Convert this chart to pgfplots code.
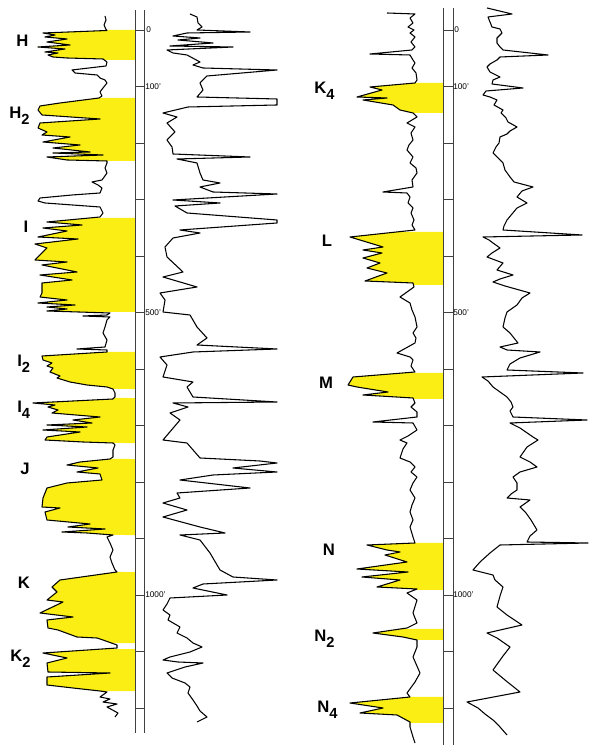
\documentclass[border=0pt]{standalone}
\usepackage{fontspec}
\setmainfont{Liberation Sans}
\usepackage{pgfplots}
\pgfplotsset{compat=1.18}
\usepackage{pgfplotstable}
\usepgfplotslibrary{fillbetween}
\definecolor{ylw}{RGB}{250,238,20}

% left panel, left log (x, y in picture units; y = depth position)
\pgfplotstableread{
x y
105 16
106 20
104 25
106 29.5
107 30.5
43 33
55 35
45 37
67 39
47 42
70 45
38 47
65 49
45 52
58 53
48 55
53 57
67 58
103 59
107 62
106 66
72 70
75 73
97 75
100 78
105 80
107 83
103 88
100 92
102 96
99 98
60 103
40 106
38 110
42 115
100 119
40 123
38 128
47 132
42 135
70 137
43 142
80 145
53 148
90 152
53 153
103 155
47 157
67 160
107 161
107 163
105 168
107 173
102 180
92 182
98 185
102 188
100 193
72 195
40 198
38 201
45 203
100 207
103 213
100 217
47 222
82 225
43 228
67 231
38 237
78 239
35 244
47 248
35 260
67 262
42 265
77 272
40 275
72 280
42 283
42 293
40 297
67 300
38 303
75 305
47 307
67 309
47 311
110 313
107 315
83 316
110 317
107 320
105 327
103 333
107 340
105 347
77 349
107 350
107 352
42 356
43 360
52 363
47 366
53 368
50 372
60 376
57 378
70 382
87 385
107 387
113 389
115 393
115 397
113 399
33 403
55 405
48 407
58 410
52 413
100 417
73 420
92 423
47 425
87 427
43 430
80 432
47 437
45 440
83 442
113 443
115 445
113 450
113 457
110 459
80 462
67 465
98 468
77 472
100 474
102 480
67 483
47 488
43 498
42 507
60 508
45 512
47 520
90 524
68 527
105 529
62 532
87 533
113 535
107 537
110 543
113 550
110 557
112 563
115 570
117 572
60 580
52 587
57 592
47 600
63 602
40 613
73 617
47 620
48 628
58 630
77 637
97 638
103 640
117 645
117 648
43 653
67 658
47 663
48 672
110 673
47 677
47 685
73 688
100 691
107 692
100 697
110 699
103 702
117 704
107 707
118 713
115 717
}\LL

% left panel, right log
\pgfplotstableread{
x y
190 14
197 17
198 23
202 27
197 30
250 32
187 33
173 36
200 38
178 40
213 43
170 46
233 47
167 50
173 53
187 55
200 62
193 65
203 68
277 70
207 76
200 83
203 90
197 97
277 99
277 105
188 107
163 113
177 117
167 123
175 132
167 140
172 147
173 154
250 157
177 159
197 163
200 173
203 180
220 183
200 187
213 192
277 194
173 200
220 203
175 206
187 213
277 220
277 223
180 230
200 233
173 238
165 247
167 257
183 272
163 277
197 287
160 293
165 300
163 312
190 315
197 327
207 338
197 345
277 349
193 352
160 357
167 365
163 377
193 382
187 387
193 397
277 402
173 403
188 407
170 413
180 420
163 440
187 443
200 458
260 461
277 463
233 468
277 472
213 475
180 480
250 488
177 493
180 498
163 503
187 510
163 517
200 527
225 533
180 535
200 540
210 553
220 570
233 577
277 580
203 584
193 588
227 595
170 598
167 604
163 610
170 615
168 620
180 627
177 633
187 638
193 643
202 647
190 652
170 657
163 660
178 662
203 663
185 667
167 673
172 678
185 683
190 687
188 693
193 700
197 706
200 711
207 717
197 722
}\LR

% right panel, left log
\pgfplotstableread{
x y
387 13
415 14
410 18
413 23
408 27
414 30
410 33
415 37
411 42
415 47
412 50
370 54
410 55
413 60
415 63
412 68
416 73
417 80
415 83
370 87
382 90
357 97
387 98
363 100
393 105
400 110
413 113
417 117
407 123
415 127
411 133
413 140
409 145
407 150
413 157
410 163
416 168
417 173
412 180
413 187
383 192
407 193
410 197
408 203
413 208
411 213
414 220
412 225
415 230
350 237
383 247
363 250
382 253
363 258
380 263
367 268
387 273
365 281
413 283
414 287
407 292
400 297
410 303
412 310
415 317
417 327
413 333
416 338
415 343
397 353
410 357
413 360
411 366
415 372
353 377
348 385
357 387
388 392
363 395
413 398
415 403
411 407
417 412
417 417
373 422
413 423
417 430
408 436
400 440
407 443
403 449
400 458
410 462
415 467
411 472
417 477
413 483
410 490
415 498
412 505
410 512
413 520
410 527
413 537
415 543
367 545
387 550
400 552
385 555
407 562
357 569
408 572
362 577
400 580
377 587
417 589
407 593
417 600
413 613
417 623
407 628
373 633
403 637
417 640
417 647
413 657
420 673
415 682
407 693
410 697
350 703
383 708
360 713
397 715
410 722
410 727
413 737
415 743
}\RL

% right panel, right log
\pgfplotstableread{
x y
487 8
512 14
488 17
490 22
492 27
500 29
502 33
497 38
497 43
500 47
503 50
548 55
500 57
497 60
490 64
487 67
490 72
500 77
493 80
492 84
523 88
486 91
483 95
490 97
497 100
494 105
503 110
501 113
506 118
508 122
517 127
510 131
507 134
500 137
499 143
496 147
493 153
498 158
503 163
505 170
510 177
514 182
533 187
522 191
517 197
527 203
517 208
512 214
507 220
504 226
503 230
582 235
483 237
489 240
493 243
500 248
492 253
487 257
495 260
503 263
497 270
513 275
500 279
493 282
505 286
530 293
522 298
517 305
507 312
505 318
503 327
510 333
518 343
500 347
507 350
540 352
520 358
510 364
507 370
583 373
482 377
488 381
493 387
500 392
507 397
511 402
513 407
510 411
513 417
587 420
510 423
520 428
533 437
538 440
527 447
520 457
530 462
537 467
520 472
513 477
517 483
517 490
511 494
507 498
530 500
520 507
526 513
531 520
537 530
530 536
527 542
588 543
500 545
490 553
480 562
473 570
493 575
495 580
503 587
500 596
497 607
507 615
522 625
487 633
497 638
510 647
503 656
493 670
505 680
520 692
467 702
478 708
485 714
493 720
500 727
507 735
}\RR

\newcommand{\sub}[1]{\raisebox{-4.5pt}{\fontsize{11}{11}\selectfont\bfseries #1}}

\begin{document}
\begin{tikzpicture}[
  lab/.style={font=\fontsize{12.5}{13}\selectfont\bfseries, inner sep=0pt},
  dep/.style={font=\fontsize{6.2}{7}\selectfont, inner sep=0pt, anchor=west},
]
\begin{axis}[
  width=450pt, height=564pt, scale only axis,
  xmin=0, xmax=600, ymin=0, ymax=752, y dir=reverse,
  axis line style={draw=none}, ticks=none, clip=false,
]
% paths for fills
\addplot[draw=none, name path=LLp] table {\LL};
\addplot[draw=none, name path=ELp] coordinates {(135,10) (135,733)};
\addplot[draw=none, name path=RLp] table {\RL};
\addplot[draw=none, name path=ERp] coordinates {(443,8) (443,745)};
% yellow sand zones, left panel
\addplot[fill=ylw, draw=none] fill between[of=LLp and ELp, soft clip={domain y=30:60}];
\addplot[fill=ylw, draw=none] fill between[of=LLp and ELp, soft clip={domain y=98:161}];
\addplot[fill=ylw, draw=none] fill between[of=LLp and ELp, soft clip={domain y=218:312}];
\addplot[fill=ylw, draw=none] fill between[of=LLp and ELp, soft clip={domain y=352:389}];
\addplot[fill=ylw, draw=none] fill between[of=LLp and ELp, soft clip={domain y=398:443}];
\addplot[fill=ylw, draw=none] fill between[of=LLp and ELp, soft clip={domain y=459:535}];
\addplot[fill=ylw, draw=none] fill between[of=LLp and ELp, soft clip={domain y=572:643}];
\addplot[fill=ylw, draw=none] fill between[of=LLp and ELp, soft clip={domain y=649:691}];
% right panel
\addplot[fill=ylw, draw=none] fill between[of=RLp and ERp, soft clip={domain y=83:113}];
\addplot[fill=ylw, draw=none] fill between[of=RLp and ERp, soft clip={domain y=232:285}];
\addplot[fill=ylw, draw=none] fill between[of=RLp and ERp, soft clip={domain y=373:399}];
\addplot[fill=ylw, draw=none] fill between[of=RLp and ERp, soft clip={domain y=543:590}];
\addplot[fill=ylw, draw=none] fill between[of=RLp and ERp, soft clip={domain y=629:640}];
\addplot[fill=ylw, draw=none] fill between[of=RLp and ERp, soft clip={domain y=697:723}];

% log curves
\addplot[black, line width=0.8pt, line join=round] table {\LL};
\addplot[black, line width=0.8pt, line join=round] table {\LR};
\addplot[black, line width=0.8pt, line join=round] table {\RL};
\addplot[black, line width=0.8pt, line join=round] table {\RR};

% depth tracks
\addplot[black!75, line width=0.6pt] coordinates {(135,10) (135,733)};
\addplot[black!75, line width=0.6pt] coordinates {(144,10) (144,733)};
\addplot[black!75, line width=0.6pt] coordinates {(443,8) (443,745)};
\addplot[black!75, line width=0.6pt] coordinates {(453,8) (453,745)};
\addplot[only marks, mark=-, mark size=3.4pt, mark options={black!75, line width=0.6pt}]
  coordinates {(139.5,30) (139.5,86.5) (139.5,143) (139.5,199.5) (139.5,256) (139.5,312.5) (139.5,369)
  (139.5,425.5) (139.5,482) (139.5,538.5) (139.5,595) (139.5,651.5) (139.5,708)};
\addplot[only marks, mark=-, mark size=3.6pt, mark options={black!75, line width=0.6pt}]
  coordinates {(448,30) (448,86.5) (448,143) (448,199.5) (448,256) (448,312.5) (448,369)
  (448,425.5) (448,482) (448,538.5) (448,595) (448,651.5) (448,708)};

\node[dep] at (axis cs:146,30) {0};
\node[dep] at (axis cs:145,86.5) {100'};
\node[dep] at (axis cs:145,312.5) {500'};
\node[dep] at (axis cs:145,595) {1000'};
\node[dep] at (axis cs:454,30) {0};
\node[dep] at (axis cs:453,86.5) {100'};
\node[dep] at (axis cs:453,312.5) {500'};
\node[dep] at (axis cs:453,595) {1000'};

% zone labels
\node[lab, anchor=base] at (axis cs:22.5,47) {H};
\node[lab, anchor=base west] at (axis cs:9,119) {H\sub{2}};
\node[lab, anchor=base] at (axis cs:26,233) {I};
\node[lab, anchor=base west] at (axis cs:17,367) {I\sub{2}};
\node[lab, anchor=base west] at (axis cs:17,413) {I\sub{4}};
\node[lab, anchor=base] at (axis cs:25,475) {J};
\node[lab, anchor=base] at (axis cs:24,589) {K};
\node[lab, anchor=base west] at (axis cs:10,662) {K\sub{2}};
\node[lab, anchor=base west] at (axis cs:314,94) {K\sub{4}};
\node[lab, anchor=base] at (axis cs:327,247) {L};
\node[lab, anchor=base] at (axis cs:326,389) {M};
\node[lab, anchor=base] at (axis cs:329,556) {N};
\node[lab, anchor=base west] at (axis cs:314,642) {N\sub{2}};
\node[lab, anchor=base west] at (axis cs:317,713) {N\sub{4}};
\end{axis}
\end{tikzpicture}
\end{document}
